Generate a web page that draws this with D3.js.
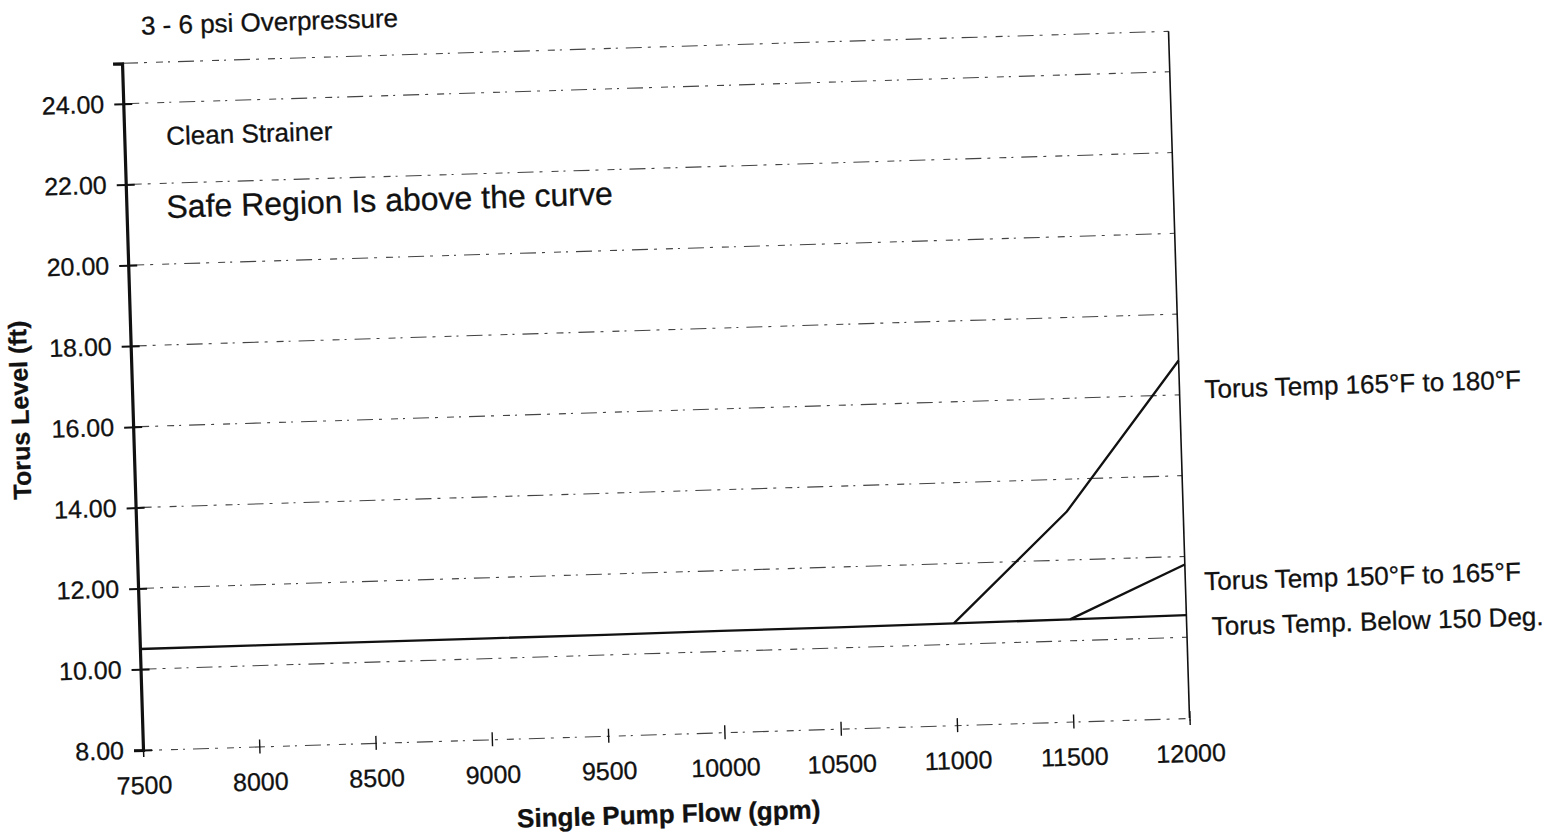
<!DOCTYPE html>
<html>
<head>
<meta charset="utf-8">
<script src="https://cdn.jsdelivr.net/npm/d3@7"></script>
<style>
  body { margin: 0; background: #fff; }
  svg { display: block; }
  text { font-family: "Liberation Sans", Arial, sans-serif; fill: #111; stroke: #111; stroke-width: 0.3px; }
</style>
</head>
<body>
<div class="chart"></div>
<script>
// values
var flow = [7500, 8000, 8500, 9000, 9500, 10000, 10500, 11000, 11500, 12000];
var below150 = [10.50, 10.50, 10.50, 10.50, 10.50, 10.51, 10.51, 10.52, 10.53, 10.55];
var flow150to165 = [11500, 12000];
var temp150to165 = [10.53, 11.80];
var flow165to180 = [11000, 11500, 12000];
var temp165to180 = [10.52, 13.20, 16.85];
var yTicks = [8, 10, 12, 14, 16, 18, 20, 22, 24];
var gridLevels = [10, 12, 14, 16, 18, 20, 22, 24, 25];
var seriesNames = ["Torus Temp 165°F to 180°F", "Torus Temp 150°F to 165°F", "Torus Temp. Below 150 Deg."];
var seriesLabelLevel = [15.9, 11.15, 10.03];

var width = 1047, height = 687;

var svg = d3.select("div.chart").append("svg")
    .attr("width", 1558)
    .attr("height", 837);

// the scan is a little tilted, so the whole plot is turned with it
var g = svg.append("g")
    .attr("transform", "translate(143,750) rotate(-1.75) translate(0," + (-height) + ")");

var x = d3.scaleLinear().domain([7500, 12000]).range([0, width]);
var y = d3.scaleLinear().domain([8, 25]).range([height, 0]);

// grid lines (broken, like the copy)
g.selectAll("line.grid").data(gridLevels).enter().append("line")
    .attr("class", "grid")
    .attr("x1", 0)
    .attr("x2", width)
    .attr("y1", function (d) { return y(d); })
    .attr("y2", function (d) { return y(d); })
    .attr("stroke", "#444")
    .attr("stroke-width", 1.1)
    .attr("stroke-dasharray", "16,6,3,9,7,5,2,8");

// right border
g.append("line")
    .attr("x1", width).attr("x2", width)
    .attr("y1", y(25)).attr("y2", y(8))
    .attr("stroke", "#111")
    .attr("stroke-width", 1.6);

// x axis
var xAxis = g.append("g")
    .attr("transform", "translate(0," + height + ")")
    .call(d3.axisBottom(x).tickValues(flow).tickFormat(d3.format("d")).tickSize(7));
xAxis.select(".domain")
    .attr("stroke", "#444")
    .attr("stroke-width", 1.1)
    .attr("stroke-dasharray", "16,6,3,9,7,5,2,8");
xAxis.selectAll(".tick line")
    .attr("y1", -7)
    .attr("stroke", "#111")
    .attr("stroke-width", 1.4);
xAxis.selectAll(".tick text")
    .attr("y", 44)
    .attr("dy", null)
    .style("font-size", "25px")
    .style("font-family", "Liberation Sans, Arial, sans-serif")
    .attr("fill", "#111");

// y axis
var yAxis = g.append("g")
    .call(d3.axisLeft(y).tickValues(yTicks).tickFormat(d3.format(".2f")).tickSize(9).tickPadding(10));
yAxis.select(".domain")
    .attr("stroke", "#111")
    .attr("stroke-width", 3.2);
yAxis.selectAll(".tick line")
    .attr("x2", 9)
    .attr("x1", -9)
    .attr("stroke", "#111")
    .attr("stroke-width", 2);
yAxis.selectAll(".tick text")
    .style("font-size", "25px")
    .style("font-family", "Liberation Sans, Arial, sans-serif")
    .attr("fill", "#111");

// curves
var line = d3.line()
    .x(function (d) { return x(d[0]); })
    .y(function (d) { return y(d[1]); });

var series = [
    d3.zip(flow, below150),
    d3.zip(flow150to165, temp150to165),
    d3.zip(flow165to180, temp165to180)
];
g.selectAll("path.curve").data(series).enter().append("path")
    .attr("class", "curve")
    .attr("d", line)
    .attr("fill", "none")
    .attr("stroke", "#111")
    .attr("stroke-width", 2.3);

// series labels on the right
var labelShift = [25, 19, 25];
g.selectAll("text.label").data(seriesNames).enter().append("text")
    .attr("class", "label")
    .attr("x", function (d, i) { return width + labelShift[i]; })
    .attr("y", function (d, i) { return y(seriesLabelLevel[i]); })
    .style("font-size", "26px")
    .text(function (d) { return d; });

// notes in the plot
g.append("text")
    .attr("x", 20)
    .attr("y", -28)
    .style("font-size", "26px")
    .text("3 - 6 psi Overpressure");
g.append("text")
    .attr("x", 42)
    .attr("y", 83)
    .style("font-size", "26px")
    .text("Clean Strainer");
g.append("text")
    .attr("x", 40)
    .attr("y", 156)
    .style("font-size", "32px")
    .text("Safe Region Is above the curve");

// axis titles
g.append("text")
    .attr("x", width / 2)
    .attr("y", height + 89)
    .style("text-anchor", "middle")
    .style("font-size", "26px")
    .style("font-weight", "bold")
    .text("Single Pump Flow (gpm)");
g.append("text")
    .attr("transform", "translate(-104," + (height / 2) + ") rotate(-90)")
    .style("text-anchor", "middle")
    .style("font-size", "25px")
    .style("font-weight", "bold")
    .text("Torus Level (ft)");
</script>
</body>
</html>
